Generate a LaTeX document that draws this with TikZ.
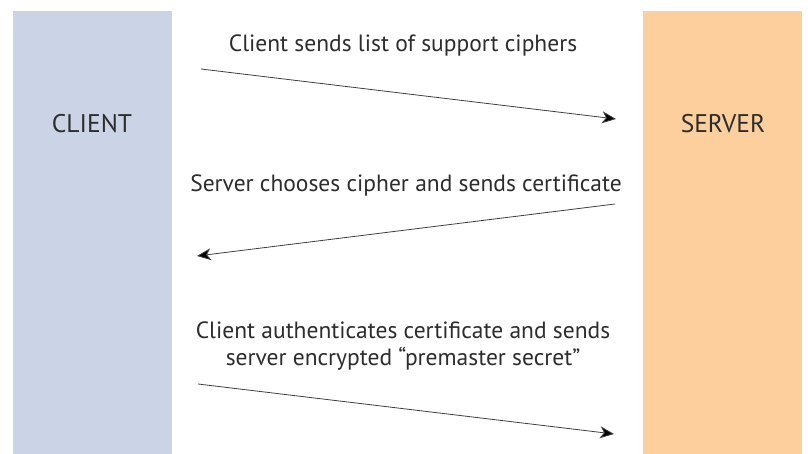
\documentclass[tikz,border=0pt]{standalone}
\usepackage{fontspec}
\setmainfont{PT Sans}
\usetikzlibrary{arrows.meta}
\definecolor{clientfill}{RGB}{203,211,230}
\definecolor{serverfill}{RGB}{252,207,156}
\definecolor{txt}{RGB}{45,45,45}
\begin{document}
\begin{tikzpicture}[x=1pt,y=-1pt,
  col/.style={draw=none,inner sep=0pt,outer sep=0pt},
  lbl/.style={text=txt,font=\fontsize{25.5}{30}\selectfont,inner sep=0pt},
  msg/.style={text=txt,font=\fontsize{23.5}{27}\selectfont,inner sep=0pt,align=center},
  flow/.style={draw=black!75,line width=0.8pt,-{Stealth[length=14pt,width=12pt,inset=4pt,fill=black]}}]
\useasboundingbox (0,0) rectangle (808,454);
\fill[white] (0,0) rectangle (808,454);
\node[col,fill=clientfill,minimum width=159pt,minimum height=443pt,anchor=north west] (client) at (13,11) {};
\node[col,fill=serverfill,minimum width=159pt,minimum height=443pt,anchor=north west] (server) at (643,11) {};
\node[lbl] (clientlbl) at (92,124) {CLIENT};
\node[lbl] (serverlbl) at (723,124) {SERVER};
\node[msg] (m1) at (403,45) {Client sends list of support ciphers};
\node[msg] (m2) at (406,185) {Server chooses cipher and sends certificate};
\node[msg] (m3) at (403,346) {Client authenticates certificate and sends\\server encrypted “premaster secret”};
\coordinate (a1s) at (201,69);
\coordinate (a1e) at (616,119);
\coordinate (a2s) at (615,204);
\coordinate (a2e) at (197,256);
\coordinate (a3s) at (198,384);
\coordinate (a3e) at (614,434);
\draw[flow] (a1s) -- (a1e);
\draw[flow] (a2s) -- (a2e);
\draw[flow] (a3s) -- (a3e);
\end{tikzpicture}
\end{document}
